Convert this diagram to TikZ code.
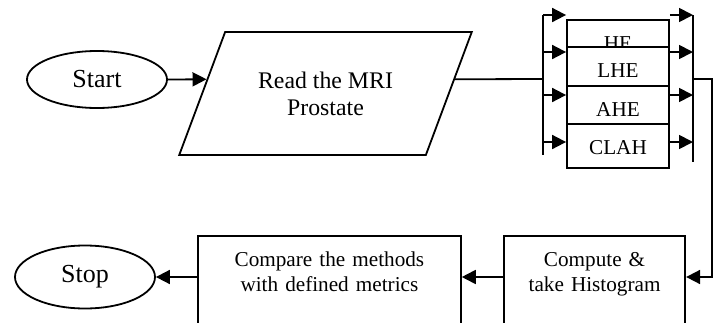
\documentclass[tikz,border=0pt]{standalone}
\usepackage{fontspec}
\setmainfont{Liberation Serif}
\usetikzlibrary{arrows.meta, shapes.geometric, calc}

\begin{document}
\begin{tikzpicture}[
  x=0.5pt, y=-0.5pt,
  line width=0.9pt,
  term/.style={draw, ellipse, inner sep=0pt, minimum width=70pt,
               font=\fontsize{13}{15}\selectfont},
  io/.style={draw, trapezium, trapezium left angle=59.3, trapezium right angle=120.7,
             trapezium stretches=true, minimum width=146.5pt, minimum height=61.5pt,
             align=center, font=\fontsize{11.9}{13.5}\selectfont},
  proc/.style={draw, fill=white, align=center, inner ysep=0pt, text height=15.5pt,
               font=\fontsize{10.6}{12.5}\selectfont},
  meth/.style={proc, anchor=north, minimum width=51pt},
  flow/.style={-{Triangle[length=7pt, width=7pt]}},
]
\useasboundingbox (0,0) rectangle (718,322);
\clip (0,0) rectangle (718,322);

\node[term, minimum height=28.5pt] (start) at (97,79.5) {Start};
\node[io] (read) at (325.5,93.5) {Read the MRI\\Prostate};

% enhancement methods, stacked
\node[meth, text depth=4.5pt] (he) at (618,19) {HE};
\node[meth, text depth=4pt] (lhe) at (618,46) {LHE};
\node[meth, text depth=3.5pt] (ahe) at (618,85) {AHE};
\node[meth, text depth=6.5pt] (clah) at (618,123) {CLAH};

\node[proc, anchor=north west, minimum width=90pt, text width=84pt, text depth=60pt]
  (hist) at (503,235) {Compute \&\\take Histogram};
\node[proc, anchor=north west, minimum width=131.5pt, text width=120pt, text depth=60pt]
  (cmp) at (197,235) {Compare the methods\\with defined metrics};
\node[term, minimum height=31.5pt] (stop) at (85,277) {Stop};

\coordinate (rdL) at ($(read.top left corner)!0.386!(read.bottom left corner)$);
\coordinate (rdR) at ($(read.top right corner)!0.386!(read.bottom right corner)$);
\coordinate (busL) at (543,79);
\coordinate (busR) at (693,79);
\coordinate (row) at (0,277);

\draw[flow] (start.east) -- (rdL);
\draw (rdR) -- (busL);

% split / join buses
\draw (busL |- 0,15) -- (busL |- 0,155);
\draw (busR |- 0,15) -- (busR |- 0,162);
\foreach \y in {15, 52, 95, 142} {
  \draw[flow] (busL |- 0,\y) -- (he.west |- 0,\y);
  \draw[flow] (he.east |- 0,\y) -- (busR |- 0,\y);
}

\draw[flow] (busR) -- ++(19,0) |- (hist.east |- row);
\draw[flow] (hist.west |- row) -- (cmp.east |- row);
\draw[flow] (cmp.west |- row) -- (stop);
\end{tikzpicture}
\end{document}
